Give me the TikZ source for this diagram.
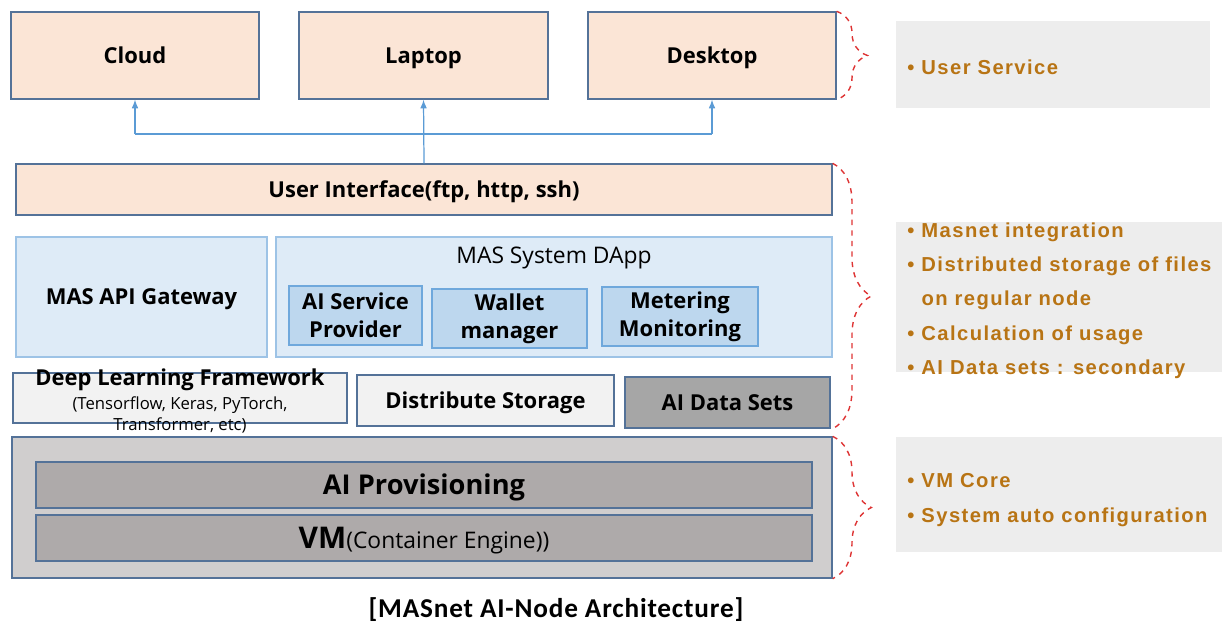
\documentclass[tikz,border=0pt]{standalone}
\usepackage{fontspec}
\setmainfont{Open Sans}
\newfontfamily\notefont[LetterSpace=7]{Liberation Sans}
\newfontfamily\capfont[LetterSpace=3]{Carlito}
\usetikzlibrary{arrows,decorations.pathreplacing}
\definecolor{peach}{RGB}{251,229,214}
\definecolor{edge}{RGB}{84,114,152}
\definecolor{paleblue}{RGB}{222,235,247}
\definecolor{paleedge}{RGB}{157,195,230}
\definecolor{midblue}{RGB}{189,215,238}
\definecolor{midedge}{RGB}{111,168,220}
\definecolor{linkblue}{RGB}{91,155,213}
\definecolor{lightgray}{RGB}{242,242,242}
\definecolor{darkgray}{RGB}{166,166,166}
\definecolor{vmgray}{RGB}{208,206,206}
\definecolor{innergray}{RGB}{174,170,170}
\definecolor{notegray}{RGB}{237,237,237}
\definecolor{notetext}{RGB}{184,116,20}
\definecolor{bracered}{RGB}{222,52,52}
\tikzset{
  box/.style={draw=edge, line width=0.75pt, inner sep=0pt, align=center,
    text height=9pt, text depth=0pt, font=\bfseries\fontsize{12.5}{16}\selectfont},
  twoline/.style={text height={}, text depth={}},
  bigtext/.style={text height=11.2pt, font=\bfseries\fontsize{15.5}{18}\selectfont},
  peachbox/.style={box, fill=peach},
  bluebox/.style={box, draw=paleedge, fill=paleblue},
  subbox/.style={box, twoline, draw=midedge, fill=midblue},
  lightbox/.style={box, fill=lightgray},
  darkbox/.style={box, fill=darkgray},
  vmbox/.style={box, fill=vmgray},
  innerbox/.style={box, bigtext, fill=innergray},
  notebox/.style={fill=notegray, inner sep=0pt},
  note/.style={anchor=base west, inner sep=0pt, text=notetext,
    font=\notefont\bfseries\fontsize{11.5}{13}\selectfont},
  link/.style={draw=linkblue, line width=0.7pt, -latex},
  wire/.style={draw=linkblue, line width=0.7pt},
  grpbrace/.style={draw=bracered, line width=0.8pt, dashed, decorate}
}
% name, style, x1, y1, x2, y2, text
\newcommand{\layer}[7]{\node[#2, minimum width={(#5-#3)*0.02cm}, minimum height={(#6-#4)*0.02cm}]
  (#1) at ({(#3+#5)/2},{(#4+#6)/2}) {#7};}
\newcommand{\itm}{\makebox[0.7em][l]{\textbullet}}

\begin{document}
\begin{tikzpicture}[x=0.02cm, y=-0.02cm]
  \useasboundingbox (0,0) rectangle (1222,626);

  % user devices
  \layer{cloud}{peachbox}{11}{12}{259}{99}{Cloud}
  \layer{laptop}{peachbox}{299}{12}{548}{99}{Laptop}
  \layer{desktop}{peachbox}{588}{12}{836}{99}{Desktop}
  \layer{ui}{peachbox}{16}{164}{832}{215}{User Interface(ftp, http, ssh)}

  \coordinate (bus) at (424,134);
  \draw[link] (ui.north) -- (laptop.south);
  \draw[wire] (cloud.south |- bus) -- (desktop.south |- bus);
  \draw[link] (cloud.south |- bus) -- (cloud.south);
  \draw[link] (desktop.south |- bus) -- (desktop.south);

  % services
  \layer{gateway}{bluebox}{16}{237}{267}{357}{MAS API Gateway}
  \layer{dapp}{bluebox}{276}{237}{832}{357}{}
  \node[font=\fontsize{13}{15}\selectfont] (dapplbl) at (554,258) {MAS System DApp};
  \layer{provider}{subbox}{289}{286}{422}{345}{AI Service\\Provider}
  \layer{wallet}{subbox}{432}{289}{587}{348}{Wallet\\manager}
  \layer{metering}{subbox}{602}{287}{758}{346}{Metering\\Monitoring}

  \layer{dlf}{lightbox}{13}{373}{347}{423}{}
  \node[anchor=north, align=center, inner sep=0pt, font=\fontsize{9.5}{12}\selectfont]
    (dlftxt) at (180,368) {{\bfseries\fontsize{12.5}{14}\selectfont Deep Learning Framework}\\[2pt]
    (Tensorflow, Keras, PyTorch,\\Transformer, etc)};
  \layer{storage}{lightbox}{357}{375}{614}{426}{Distribute Storage}
  \layer{datasets}{darkbox}{625}{377}{830}{428}{AI Data Sets}

  % vm layer
  \layer{vmcore}{vmbox}{12}{437}{832}{578}{}
  \layer{prov}{innerbox}{36}{462}{812}{508}{AI Provisioning}
  \layer{vm}{innerbox, text height=12pt}{36}{515}{812}{561}{{\fontsize{17}{18}\selectfont VM}{\mdseries\fontsize{13}{14}\selectfont(Container Engine))}}

  % groups
  \draw[grpbrace, decoration={brace, amplitude=17.5pt}] (desktop.north east) -- (desktop.south east);
  \draw[grpbrace, decoration={brace, amplitude=22pt}] (ui.north east) -- (ui.north east |- datasets.south);
  \draw[grpbrace, decoration={brace, amplitude=22pt}] (vmcore.north east) -- (vmcore.south east);

  \layer{usernote}{notebox}{896}{21}{1210}{108}{}
  \layer{appnote}{notebox}{896}{222}{1222}{372}{}
  \layer{vmnote}{notebox}{896}{437}{1222}{552}{}

  \node[note] (usr1) at (907,74) {\itm User Service};
  \foreach \txt [count=\i] in {{\itm Masnet integration},
      {\itm Distributed storage of files}, {\hspace*{0.7em}on regular node},
      {\itm Calculation of usage}, {\itm AI Data sets : secondary}}
    \node[note] (app\i) at (907,{237+34.4*(\i-1)}) {\txt};
  \node[note] (vm1) at (907,487) {\itm VM Core};
  \node[note] (vm2) at (907,522) {\itm System auto configuration};

  \node[font=\capfont\bfseries\fontsize{15.5}{17}\selectfont] (caption) at (556,610)
    {[MASnet AI-Node Architecture]};
\end{tikzpicture}
\end{document}
